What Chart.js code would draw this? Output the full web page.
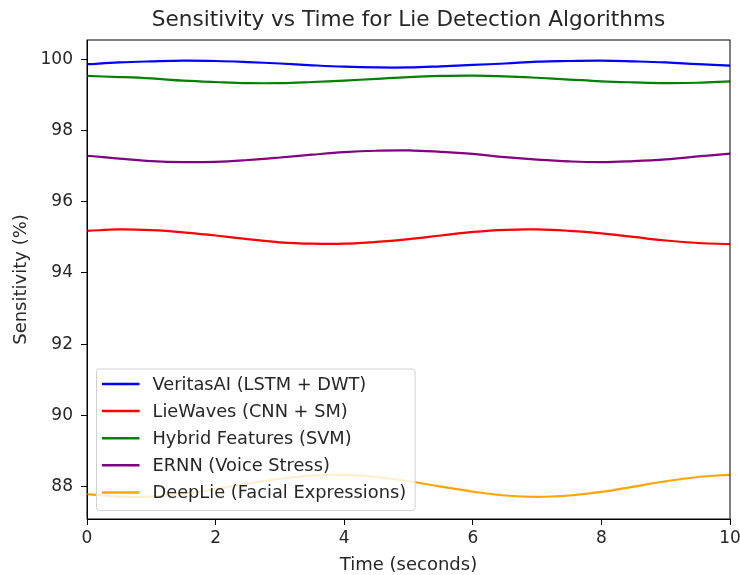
<!DOCTYPE html>
<html>
<head>
<meta charset="utf-8">
<title>Sensitivity vs Time for Lie Detection Algorithms</title>
<script src="https://cdn.jsdelivr.net/npm/chart.js@4.4.1/dist/chart.umd.min.js"></script>
<style>
  html, body { margin: 0; padding: 0; background: #fff; }
  canvas { display: block; }
</style>
</head>
<body>
<canvas id="chart" width="740" height="575"></canvas>
<script>
const times = [0, 0.5, 1, 1.5, 2, 2.5, 3, 3.5, 4, 4.5, 5, 5.5, 6, 6.5, 7, 7.5, 8, 8.5, 9, 9.5, 10];
const veritasAI = [99.86, 99.91, 99.94, 99.96, 99.95, 99.92, 99.88, 99.83, 99.79, 99.77, 99.77, 99.80, 99.84, 99.88, 99.93, 99.95, 99.96, 99.94, 99.91, 99.86, 99.82];
const lieWaves = [95.18, 95.22, 95.20, 95.14, 95.05, 94.95, 94.86, 94.82, 94.82, 94.87, 94.95, 95.05, 95.15, 95.21, 95.22, 95.18, 95.11, 95.01, 94.91, 94.84, 94.81];
const hybridSVM = [99.53, 99.50, 99.46, 99.40, 99.36, 99.33, 99.33, 99.36, 99.40, 99.45, 99.50, 99.53, 99.54, 99.52, 99.48, 99.43, 99.38, 99.35, 99.33, 99.34, 99.38];
const ernnVoice = [97.29, 97.21, 97.14, 97.11, 97.12, 97.17, 97.24, 97.32, 97.39, 97.43, 97.44, 97.40, 97.34, 97.25, 97.18, 97.13, 97.11, 97.14, 97.19, 97.27, 97.35];
const deepLie = [87.79, 87.72, 87.72, 87.80, 87.93, 88.08, 88.22, 88.31, 88.33, 88.27, 88.15, 88.00, 87.86, 87.75, 87.71, 87.75, 87.85, 88.00, 88.15, 88.27, 88.33];

const seriesLabels = ["VeritasAI (LSTM + DWT)", "LieWaves (CNN + SM)", "Hybrid Features (SVM)", "ERNN (Voice Stress)", "DeepLie (Facial Expressions)"];
const seriesColors = ["#0000ff", "#ff0000", "#008000", "#800080", "#ffa500"];
const seriesValues = [veritasAI, lieWaves, hybridSVM, ernnVoice, deepLie];

const xTicks = [0, 2, 4, 6, 8, 10];
const yTicks = [88, 90, 92, 94, 96, 98, 100];

const chartTitle = "Sensitivity vs Time for Lie Detection Algorithms";
const FONT = "'DejaVu Sans', sans-serif";
const TEXT = "#262626";

// Full box around the plot (matplotlib spines) and the title centred over the plot
const framePlugin = {
    id: "frame",
    afterDraw(chart) {
        const { ctx, chartArea: a } = chart;
        ctx.save();
        ctx.strokeStyle = "#000";
        ctx.lineWidth = 1;
        ctx.strokeRect(a.left, a.top, a.right - a.left, a.bottom - a.top);
        ctx.fillStyle = TEXT;
        ctx.font = "21.6px " + FONT;
        ctx.textAlign = "center";
        ctx.textBaseline = "middle";
        ctx.fillText(chartTitle, (a.left + a.right) / 2, 20);
        ctx.restore();
    }
};

// Legend drawn inside the plot, lower left corner
const insideLegend = {
    id: "insideLegend",
    afterDatasetsDraw(chart) {
        const { ctx, chartArea: a } = chart;
        const ds = chart.data.datasets;
        ctx.save();
        ctx.font = "17.8px " + FONT;
        const textW = Math.max(...ds.map(d => ctx.measureText(d.label).width));
        const rowH = 27.1;
        const boxX = a.left + 9;
        const boxW = 56.5 + textW + 8.5;
        const boxH = 141.5;
        const boxY = a.bottom - 9 - boxH;

        ctx.fillStyle = "rgba(255,255,255,0.8)";
        ctx.strokeStyle = "#d0d0d0";
        ctx.lineWidth = 1;
        ctx.beginPath();
        ctx.roundRect(boxX + 0.5, boxY + 0.5, boxW, boxH, 3);
        ctx.fill();
        ctx.stroke();

        ctx.textBaseline = "middle";
        ds.forEach((d, i) => {
            const y = boxY + 15.5 + i * rowH;
            ctx.strokeStyle = d.borderColor;
            ctx.lineWidth = 2.5;
            ctx.beginPath();
            ctx.moveTo(boxX + 6, y);
            ctx.lineTo(boxX + 43.5, y);
            ctx.stroke();
            ctx.fillStyle = TEXT;
            ctx.fillText(d.label, boxX + 56.5, y + 1);
        });
        ctx.restore();
    }
};

const datasets = seriesLabels.map((label, i) => ({
    label: label,
    data: times.map((t, j) => ({ x: t, y: seriesValues[i][j] })),
    borderColor: seriesColors[i],
    backgroundColor: seriesColors[i],
    borderWidth: 2.2,
    pointRadius: 0,
    tension: 0.4,
    fill: false
}));

new Chart(document.getElementById("chart"), {
    type: "line",
    data: { datasets: datasets },
    options: {
        responsive: false,
        animation: false,
        layout: { padding: { left: 0, right: 10, top: 40, bottom: 0 } },
        plugins: {
            legend: { display: false },
            tooltip: { enabled: false },
            title: { display: false }
        },
        scales: {
            x: {
                type: "linear",
                min: 0,
                max: 10,
                afterBuildTicks: axis => { axis.ticks = xTicks.map(v => ({ value: v })); },
                afterFit: axis => {
                    axis.height = 56;
                    axis.paddingLeft = 0;
                    axis.paddingRight = 0;
                },
                grid: { drawOnChartArea: false, drawTicks: true, tickLength: 6, color: "#000" },
                border: { color: "#000", width: 1 },
                ticks: { color: TEXT, font: { family: FONT, size: 17 }, padding: 3, maxRotation: 0 },
                title: {
                    display: true,
                    text: "Time (seconds)",
                    color: TEXT,
                    font: { family: FONT, size: 18, lineHeight: 1.1 },
                    padding: { top: 0, bottom: 0 }
                }
            },
            y: {
                type: "linear",
                min: 87.09,
                max: 100.54,
                afterBuildTicks: axis => { axis.ticks = yTicks.map(v => ({ value: v })); },
                afterFit: axis => {
                    axis.width = 87;
                    axis.paddingTop = 0;
                    axis.paddingBottom = 0;
                },
                grid: { drawOnChartArea: false, drawTicks: true, tickLength: 6, color: "#000" },
                border: { color: "#000", width: 1 },
                ticks: { color: TEXT, font: { family: FONT, size: 17 }, padding: 8 },
                title: {
                    display: true,
                    text: "Sensitivity (%)",
                    color: TEXT,
                    font: { family: FONT, size: 18, lineHeight: 1.1 },
                    padding: { top: 11, bottom: 0 }
                }
            }
        }
    },
    plugins: [framePlugin, insideLegend]
});
</script>
</body>
</html>
